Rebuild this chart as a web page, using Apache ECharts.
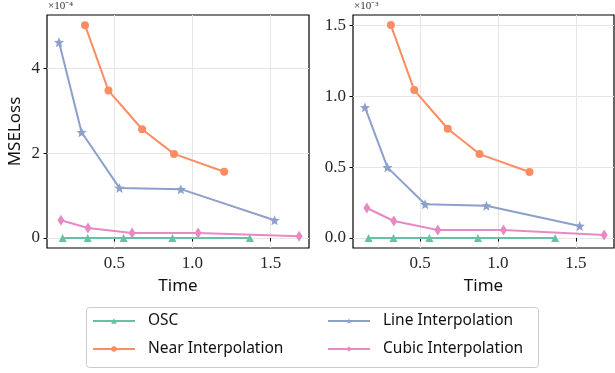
<!DOCTYPE html>
<html><head><meta charset="utf-8">
<script src="https://cdn.jsdelivr.net/npm/echarts@6/dist/echarts.min.js"></script>
<style>html,body{margin:0;padding:0;background:#fff}#c{width:615px;height:373px}</style>
</head><body><div id="c"></div>
<script>
// Times (x) per method
const timeOSC   = [0.17, 0.33, 0.56, 0.872, 1.367];
const timeNear  = [0.313, 0.463, 0.678, 0.882, 1.203];
const timeLine  = [0.147, 0.291, 0.533, 0.926, 1.525];
const timeCubic = [0.159, 0.332, 0.614, 1.036, 1.682];
// Left panel values (x1e-4)
const leftOSC   = [0, 0, 0, 0, 0];
const leftNear  = [5.01, 3.47, 2.56, 1.98, 1.56];
const leftLine  = [4.61, 2.49, 1.18, 1.15, 0.42];
const leftCubic = [0.42, 0.235, 0.118, 0.118, 0.04];
// Right panel values (x1e-3)
const rightOSC   = [0, 0, 0, 0, 0];
const rightNear  = [1.504, 1.045, 0.772, 0.593, 0.466];
const rightLine  = [0.923, 0.499, 0.238, 0.228, 0.085];
const rightCubic = [0.212, 0.12, 0.056, 0.056, 0.021];
// Ticks
const xTicks = [0.5, 1.0, 1.5];
const leftYTicks = [0, 2, 4];
const rightYTicks = [0, 0.5, 1.0, 1.5];
const names = ['OSC', 'Near Interpolation', 'Line Interpolation', 'Cubic Interpolation'];
const colors = ['#66c2a5', '#fc8d62', '#8da0cb', '#e78ac3'];
const star = 'path://M0,-10 L2.6,-3.6 L9.51,-3.09 L4.2,1.4 L5.88,8.09 L0,4.4 L-5.88,8.09 L-4.2,1.4 L-9.51,-3.09 L-2.6,-3.6 Z';
const symbols = ['triangle', 'circle', star, 'diamond'];
const symbolSizes = [8, 8, 10, [7, 11]];

const serif = '"Liberation Serif", serif';
const sans = 'Noto Sans';

function zip(xs, ys) { return xs.map((x, i) => [x, ys[i]]); }

const times = [timeOSC, timeNear, timeLine, timeCubic];
const leftVals = [leftOSC, leftNear, leftLine, leftCubic];
const rightVals = [rightOSC, rightNear, rightLine, rightCubic];

function mkX(idx) {
  return {
    type: 'value', gridIndex: idx, min: 0.07, max: 1.745,
    name: 'Time', nameLocation: 'middle', nameGap: 30,
    nameTextStyle: { fontFamily: sans, fontSize: 17, color: '#111' },
    axisLine: { show: false },
    axisTick: { show: true, length: 3.5, customValues: xTicks, lineStyle: { color: '#000' } },
    axisLabel: { customValues: xTicks, fontFamily: serif, fontSize: 17, color: '#262626', margin: 7,
      formatter: v => v.toFixed(1) },
    splitLine: { show: true, lineStyle: { color: '#e6e6e6', width: 1 } }
  };
}
function mkY(idx, min, max, ticks, fmt, name) {
  return {
    type: 'value', gridIndex: idx, min: min, max: max,
    name: name || '', nameLocation: 'middle', nameGap: 23,
    nameTextStyle: { fontFamily: sans, fontSize: 17, color: '#111' },
    axisLine: { show: false },
    axisTick: { show: true, length: 3.5, customValues: ticks, lineStyle: { color: '#000' } },
    axisLabel: { customValues: ticks, fontFamily: serif, fontSize: 17, color: '#262626', margin: 7, formatter: fmt },
    splitLine: { show: true, lineStyle: { color: '#e6e6e6', width: 1 } }
  };
}

const series = [];
[leftVals, rightVals].forEach((vals, g) => {
  names.forEach((n, i) => {
    series.push({
      type: 'line', name: n, xAxisIndex: g, yAxisIndex: g,
      data: zip(times[i], vals[i]),
      symbol: symbols[i], symbolSize: symbolSizes[i], showSymbol: true,
      itemStyle: { color: colors[i] },
      lineStyle: { color: colors[i], width: 2 },
      z: 3 + i, animation: false
    });
  });
});

const legendCommon = {
  orient: 'vertical', padding: 0, itemWidth: 42, itemHeight: 7, itemGap: 12,
  textStyle: { fontFamily: sans, fontSize: 15.5, color: '#111', padding: [0, 0, 0, 8] }
};

const chart = echarts.init(document.getElementById('c'), null, { renderer: 'canvas' });
chart.setOption({
  animation: false,
  grid: [
    { left: 47, top: 15, width: 262, height: 233, show: true, borderColor: '#000', borderWidth: 1.2, backgroundColor: 'transparent' },
    { left: 353, top: 15, width: 261, height: 233, show: true, borderColor: '#000', borderWidth: 1.2, backgroundColor: 'transparent' }
  ],
  xAxis: [mkX(0), mkX(1)],
  yAxis: [
    mkY(0, -0.235, 5.25, leftYTicks, v => String(v), 'MSELoss'),
    mkY(1, -0.0706, 1.5755, rightYTicks, v => v.toFixed(1))
  ],
  legend: [
    Object.assign({ left: 92, top: 313, data: [names[0], names[1]] }, legendCommon),
    Object.assign({ left: 327, top: 313, data: [names[2], names[3]] }, legendCommon)
  ],
  graphic: [
    { type: 'rect', left: 86, top: 307, shape: { width: 452, height: 60, r: 3 }, style: { fill: '#fff', stroke: '#cccccc', lineWidth: 1 }, z: -1 },
    { type: 'text', left: 48, top: 1, style: { text: '×10⁻⁴', font: '11px "Liberation Serif"', fill: '#333' } },
    { type: 'text', left: 354, top: 1, style: { text: '×10⁻³', font: '11px "Liberation Serif"', fill: '#333' } }
  ],
  series: series
});
</script></body></html>
